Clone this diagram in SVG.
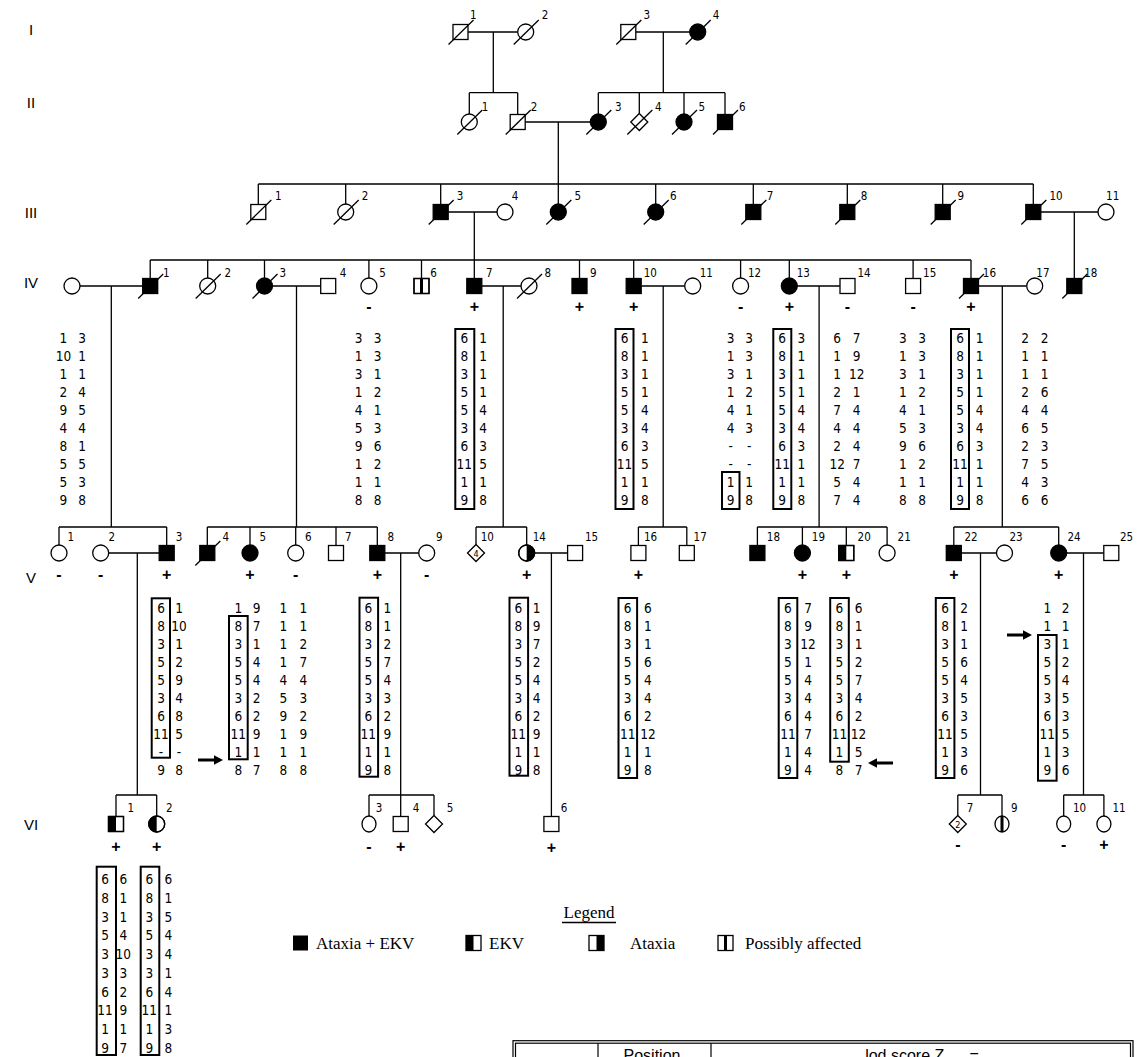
<svg xmlns="http://www.w3.org/2000/svg" xmlns:xlink="http://www.w3.org/1999/xlink" width="1138" height="1057" viewBox="0 0 1138 1057">
<style>
.o{fill:#fff;stroke:#000;stroke-width:1.3}
.f{fill:#000;stroke:#000;stroke-width:1.3}
.ol{fill:none;stroke:#000;stroke-width:1.3}
.sl{stroke:#000;stroke-width:1.3}
#conn path{fill:none;stroke:#000;stroke-width:1.3}
text{fill:#000}
.lbl{font-family:"Liberation Sans Narrow","DejaVu Sans Condensed","Liberation Sans",sans-serif;font-size:11.5px;text-anchor:middle}
.hap{font-family:"Liberation Sans Narrow","DejaVu Sans Condensed","Liberation Sans",sans-serif;font-size:13.5px;text-anchor:middle}
.pm{font-family:"Liberation Sans",sans-serif;font-size:16px;font-weight:bold;text-anchor:middle}
.gen{font-family:"Liberation Sans",sans-serif;font-size:15px;text-anchor:middle}
.bx{fill:none;stroke:#000;stroke-width:2}
.leg{font-family:"Liberation Serif",serif;font-size:17px}
.tb{font-family:"Liberation Sans",sans-serif;font-size:16px;text-anchor:middle}
</style>
<defs>
<rect id="sq" x="-7.5" y="-7.5" width="15" height="15"/>
<circle id="ci" r="8"/>
<ellipse id="ov" rx="7" ry="8"/>
<path id="di" d="M0,-8.5L8.5,0L0,8.5L-8.5,0Z"/>
<line id="sl" x1="-12" y1="12.5" x2="13" y2="-12"/>
<path id="arr" d="M0,-1.5H16V-4.8L25,0L16,4.8V1.5H0Z"/>
</defs>
<rect width="1138" height="1057" fill="#fff"/>

<g id="gen-labels">
<text class="gen" x="31" y="35">I</text>
<text class="gen" x="31" y="108">II</text>
<text class="gen" x="31" y="218">III</text>
<text class="gen" x="31" y="288">IV</text>
<text class="gen" x="31" y="583">V</text>
<text class="gen" x="31" y="830">VI</text>
</g>

<g id="conn">
<path d="M468,32H517.7M493.3,32V92.7M469.3,92.7H517.7M469.3,92.7V114M517.7,92.7V114.5"/>
<path d="M635.8,32H689.7M663.3,32V92.7M598.3,92.7H725M598.3,92.7V114M639.3,92.7V113.5M684,92.7V114M725,92.7V114.5"/>
<path d="M525.2,122H590.3M558.3,122V204"/>
<path d="M258.3,184H1033.3M258.3,184V204.5M345.7,184V204M440.7,184V204.5M655.7,184V204M753.3,184V204.5M847.3,184V204.5M942.7,184V204.5M1033.3,184V204.5"/>
<path d="M448.2,212H497M474.3,212V278.5M1040.8,212H1098M1074.3,212V278.5"/>
<path d="M150.2,260H971M150.2,260V278.5M207.7,260V278M264.5,260V278M368.9,260V278M421.5,260V278.5M579.5,260V278.5M633.7,260V278.5M740.6,260V278M789.3,260V278M913.1,260V278.5M971,260V278.5"/>
<path d="M80,286H142.7M111.3,286V527M272.5,286H320.7M296.5,286V527M481.8,286H521M503.2,286V527M641.2,286H684.7M663.2,286V527M797.3,286H840M819.1,286V527M978.5,286H1026.7M1002.3,286V527"/>
<path d="M59,527H166.7M59,527V545M166.7,527V545.5"/>
<path d="M207.3,527H377.3M207.3,527V545.5M250,527V545M295.7,527V545M336,527V545.5M377.3,527V545.5"/>
<path d="M476,527H526.7M476,527V544.5M526.7,527V545"/>
<path d="M638.4,527H686.8M638.4,527V545.5M686.8,527V545.5"/>
<path d="M757.4,527H887.1M757.4,527V545.5M802.4,527V545M846.3,527V545.5M887.1,527V545"/>
<path d="M953.8,527H1058.7M953.8,527V545.5M1058.7,527V545"/>
<path d="M108.7,553H159.2M137.3,553V795M384.8,553H418.7M400.7,553V795M534.7,553H567.6M551.4,553V816.5M961.3,553H996.5M980.5,553V795M1066.7,553H1103.8M1083.5,553V795"/>
<path d="M116,795H156.7M116,795V816.5M156.7,795V816"/>
<path d="M369,795H434M369,795V816M400.7,795V816.5M434,795V815.5"/>
<path d="M957.8,795H1002M957.8,795V815.5M1002,795V816"/>
<path d="M1063.7,795H1103.9M1063.7,795V816M1103.9,795V816"/>
</g>

<!-- Generation I -->
<g id="I-1"><use href="#sq" x="460.5" y="32" class="o"/><use href="#sl" x="460.5" y="32" class="sl"/><text class="lbl" x="473.3" y="19">1</text></g>
<g id="I-2"><use href="#ci" x="525.7" y="32" class="o"/><use href="#sl" x="525.7" y="32" class="sl"/><text class="lbl" x="545" y="19">2</text></g>
<g id="I-3"><use href="#sq" x="628.3" y="32" class="o"/><use href="#sl" x="628.3" y="32" class="sl"/><text class="lbl" x="646.7" y="19">3</text></g>
<g id="I-4"><use href="#ci" x="697.7" y="32" class="f"/><use href="#sl" x="697.7" y="32" class="sl"/><text class="lbl" x="716" y="19">4</text></g>

<!-- Generation II -->
<g id="II-1"><use href="#ci" x="469.3" y="122" class="o"/><use href="#sl" x="469.3" y="122" class="sl"/><text class="lbl" x="485" y="111">1</text></g>
<g id="II-2"><use href="#sq" x="517.7" y="122" class="o"/><use href="#sl" x="517.7" y="122" class="sl"/><text class="lbl" x="534" y="111">2</text></g>
<g id="II-3"><use href="#ci" x="598.3" y="122" class="f"/><use href="#sl" x="598.3" y="122" class="sl"/><text class="lbl" x="618.3" y="111">3</text></g>
<g id="II-4"><use href="#di" x="639.3" y="122" class="o"/><use href="#sl" x="639.3" y="122" class="sl"/><text class="lbl" x="658.3" y="111">4</text></g>
<g id="II-5"><use href="#ci" x="684" y="122" class="f"/><use href="#sl" x="684" y="122" class="sl"/><text class="lbl" x="701.7" y="111">5</text></g>
<g id="II-6"><use href="#sq" x="725" y="122" class="f"/><use href="#sl" x="725" y="122" class="sl"/><text class="lbl" x="742.3" y="111">6</text></g>

<!-- Generation III -->
<g id="III-1"><use href="#sq" x="258.3" y="212" class="o"/><use href="#sl" x="258.3" y="212" class="sl"/><text class="lbl" x="278.3" y="200">1</text></g>
<g id="III-2"><use href="#ci" x="345.7" y="212" class="o"/><use href="#sl" x="345.7" y="212" class="sl"/><text class="lbl" x="365" y="200">2</text></g>
<g id="III-3"><use href="#sq" x="440.7" y="212" class="f"/><use href="#sl" x="440.7" y="212" class="sl"/><text class="lbl" x="460" y="200">3</text></g>
<g id="III-4"><use href="#ci" x="505" y="212" class="o"/><text class="lbl" x="515" y="200">4</text></g>
<g id="III-5"><use href="#ci" x="558.3" y="212" class="f"/><use href="#sl" x="558.3" y="212" class="sl"/><text class="lbl" x="577.7" y="200">5</text></g>
<g id="III-6"><use href="#ci" x="655.7" y="212" class="f"/><use href="#sl" x="655.7" y="212" class="sl"/><text class="lbl" x="673.3" y="200">6</text></g>
<g id="III-7"><use href="#sq" x="753.3" y="212" class="f"/><use href="#sl" x="753.3" y="212" class="sl"/><text class="lbl" x="770" y="200">7</text></g>
<g id="III-8"><use href="#sq" x="847.3" y="212" class="f"/><use href="#sl" x="847.3" y="212" class="sl"/><text class="lbl" x="864" y="200">8</text></g>
<g id="III-9"><use href="#sq" x="942.7" y="212" class="f"/><use href="#sl" x="942.7" y="212" class="sl"/><text class="lbl" x="960.7" y="200">9</text></g>
<g id="III-10"><use href="#sq" x="1033.3" y="212" class="f"/><use href="#sl" x="1033.3" y="212" class="sl"/><text class="lbl" x="1056" y="200">10</text></g>
<g id="III-11"><use href="#ci" x="1106" y="212" class="o"/><text class="lbl" x="1112.7" y="200">11</text></g>

<!-- Generation IV -->
<g id="IV-spouse"><use href="#ci" x="72" y="286" class="o"/>
<text class="hap" y="343.3"><tspan x="63.4">1</tspan><tspan x="63.4" dy="17.95">10</tspan><tspan x="63.4" dy="17.95">1</tspan><tspan x="63.4" dy="17.95">2</tspan><tspan x="63.4" dy="17.95">9</tspan><tspan x="63.4" dy="17.95">4</tspan><tspan x="63.4" dy="17.95">8</tspan><tspan x="63.4" dy="17.95">5</tspan><tspan x="63.4" dy="17.95">5</tspan><tspan x="63.4" dy="17.95">9</tspan></text>
<text class="hap" y="343.3"><tspan x="82">3</tspan><tspan x="82" dy="17.95">1</tspan><tspan x="82" dy="17.95">1</tspan><tspan x="82" dy="17.95">4</tspan><tspan x="82" dy="17.95">5</tspan><tspan x="82" dy="17.95">4</tspan><tspan x="82" dy="17.95">1</tspan><tspan x="82" dy="17.95">5</tspan><tspan x="82" dy="17.95">3</tspan><tspan x="82" dy="17.95">8</tspan></text>
</g>
<g id="IV-1"><use href="#sq" x="150.2" y="286" class="f"/><use href="#sl" x="150.2" y="286" class="sl"/><text class="lbl" x="166.4" y="277">1</text></g>
<g id="IV-2"><use href="#ci" x="207.7" y="286" class="o"/><use href="#sl" x="207.7" y="286" class="sl"/><text class="lbl" x="227.7" y="277">2</text></g>
<g id="IV-3"><use href="#ci" x="264.5" y="286" class="f"/><use href="#sl" x="264.5" y="286" class="sl"/><text class="lbl" x="282.8" y="277">3</text></g>
<g id="IV-4"><use href="#sq" x="328.2" y="286" class="o"/><text class="lbl" x="343" y="277">4</text></g>
<g id="IV-5"><use href="#ci" x="368.9" y="286" class="o"/><text class="lbl" x="382.6" y="277">5</text><text class="pm" x="368.9" y="312">-</text>
<text class="hap" y="343.3"><tspan x="358.5">3</tspan><tspan x="358.5" dy="17.95">1</tspan><tspan x="358.5" dy="17.95">3</tspan><tspan x="358.5" dy="17.95">1</tspan><tspan x="358.5" dy="17.95">4</tspan><tspan x="358.5" dy="17.95">5</tspan><tspan x="358.5" dy="17.95">9</tspan><tspan x="358.5" dy="17.95">1</tspan><tspan x="358.5" dy="17.95">1</tspan><tspan x="358.5" dy="17.95">8</tspan></text>
<text class="hap" y="343.3"><tspan x="377.5">3</tspan><tspan x="377.5" dy="17.95">3</tspan><tspan x="377.5" dy="17.95">1</tspan><tspan x="377.5" dy="17.95">2</tspan><tspan x="377.5" dy="17.95">1</tspan><tspan x="377.5" dy="17.95">3</tspan><tspan x="377.5" dy="17.95">6</tspan><tspan x="377.5" dy="17.95">2</tspan><tspan x="377.5" dy="17.95">1</tspan><tspan x="377.5" dy="17.95">8</tspan></text>
</g>
<g id="IV-6"><use href="#sq" x="421.5" y="286" class="o"/><rect x="420" y="278.5" width="3" height="15"/><use href="#sq" x="421.5" y="286" class="ol"/><text class="lbl" x="433.6" y="277">6</text></g>
<g id="IV-7"><use href="#sq" x="474.3" y="286" class="f"/><text class="lbl" x="489.4" y="277">7</text><text class="pm" x="474.3" y="312">+</text>
<rect class="bx" x="455.3" y="329" width="19" height="180"/>
<text class="hap" y="343.3"><tspan x="464.3">6</tspan><tspan x="464.3" dy="17.95">8</tspan><tspan x="464.3" dy="17.95">3</tspan><tspan x="464.3" dy="17.95">5</tspan><tspan x="464.3" dy="17.95">5</tspan><tspan x="464.3" dy="17.95">3</tspan><tspan x="464.3" dy="17.95">6</tspan><tspan x="464.3" dy="17.95">11</tspan><tspan x="464.3" dy="17.95">1</tspan><tspan x="464.3" dy="17.95">9</tspan></text>
<text class="hap" y="343.3"><tspan x="483.2">1</tspan><tspan x="483.2" dy="17.95">1</tspan><tspan x="483.2" dy="17.95">1</tspan><tspan x="483.2" dy="17.95">1</tspan><tspan x="483.2" dy="17.95">4</tspan><tspan x="483.2" dy="17.95">4</tspan><tspan x="483.2" dy="17.95">3</tspan><tspan x="483.2" dy="17.95">5</tspan><tspan x="483.2" dy="17.95">1</tspan><tspan x="483.2" dy="17.95">8</tspan></text>
</g>
<g id="IV-8"><use href="#ci" x="529" y="286" class="o"/><use href="#sl" x="529" y="286" class="sl"/><text class="lbl" x="547.9" y="277">8</text></g>
<g id="IV-9"><use href="#sq" x="579.5" y="286" class="f"/><text class="lbl" x="593.2" y="277">9</text><text class="pm" x="579.5" y="312">+</text></g>
<g id="IV-10"><use href="#sq" x="633.7" y="286" class="f"/><text class="lbl" x="650.3" y="277">10</text><text class="pm" x="633.7" y="312">+</text>
<rect class="bx" x="615.5" y="329" width="18" height="180"/>
<text class="hap" y="343.3"><tspan x="624.5">6</tspan><tspan x="624.5" dy="17.95">8</tspan><tspan x="624.5" dy="17.95">3</tspan><tspan x="624.5" dy="17.95">5</tspan><tspan x="624.5" dy="17.95">5</tspan><tspan x="624.5" dy="17.95">3</tspan><tspan x="624.5" dy="17.95">6</tspan><tspan x="624.5" dy="17.95">11</tspan><tspan x="624.5" dy="17.95">1</tspan><tspan x="624.5" dy="17.95">9</tspan></text>
<text class="hap" y="343.3"><tspan x="644.8">1</tspan><tspan x="644.8" dy="17.95">1</tspan><tspan x="644.8" dy="17.95">1</tspan><tspan x="644.8" dy="17.95">1</tspan><tspan x="644.8" dy="17.95">4</tspan><tspan x="644.8" dy="17.95">4</tspan><tspan x="644.8" dy="17.95">3</tspan><tspan x="644.8" dy="17.95">5</tspan><tspan x="644.8" dy="17.95">1</tspan><tspan x="644.8" dy="17.95">8</tspan></text>
</g>
<g id="IV-11"><use href="#ci" x="692.7" y="286" class="o"/><text class="lbl" x="706.3" y="277">11</text></g>
<g id="IV-12"><use href="#ci" x="740.6" y="286" class="o"/><text class="lbl" x="754.6" y="277">12</text><text class="pm" x="740.6" y="312">-</text>
<rect class="bx" x="722" y="472" width="17.5" height="37"/>
<text class="hap" y="343.3"><tspan x="730.7">3</tspan><tspan x="730.7" dy="17.95">1</tspan><tspan x="730.7" dy="17.95">3</tspan><tspan x="730.7" dy="17.95">1</tspan><tspan x="730.7" dy="17.95">4</tspan><tspan x="730.7" dy="17.95">4</tspan><tspan x="730.7" dy="17.95">-</tspan><tspan x="730.7" dy="17.95">-</tspan><tspan x="730.7" dy="17.95">1</tspan><tspan x="730.7" dy="17.95">9</tspan></text>
<text class="hap" y="343.3"><tspan x="749.1">3</tspan><tspan x="749.1" dy="17.95">3</tspan><tspan x="749.1" dy="17.95">1</tspan><tspan x="749.1" dy="17.95">2</tspan><tspan x="749.1" dy="17.95">1</tspan><tspan x="749.1" dy="17.95">3</tspan><tspan x="749.1" dy="17.95">-</tspan><tspan x="749.1" dy="17.95">-</tspan><tspan x="749.1" dy="17.95">1</tspan><tspan x="749.1" dy="17.95">8</tspan></text>
</g>
<g id="IV-13"><use href="#ci" x="789.3" y="286" class="f"/><text class="lbl" x="803.3" y="277">13</text><text class="pm" x="789.3" y="312">+</text>
<rect class="bx" x="773.3" y="329" width="18" height="180"/>
<text class="hap" y="343.3"><tspan x="782.2">6</tspan><tspan x="782.2" dy="17.95">8</tspan><tspan x="782.2" dy="17.95">3</tspan><tspan x="782.2" dy="17.95">5</tspan><tspan x="782.2" dy="17.95">5</tspan><tspan x="782.2" dy="17.95">3</tspan><tspan x="782.2" dy="17.95">6</tspan><tspan x="782.2" dy="17.95">11</tspan><tspan x="782.2" dy="17.95">1</tspan><tspan x="782.2" dy="17.95">9</tspan></text>
<text class="hap" y="343.3"><tspan x="801.4">3</tspan><tspan x="801.4" dy="17.95">1</tspan><tspan x="801.4" dy="17.95">1</tspan><tspan x="801.4" dy="17.95">1</tspan><tspan x="801.4" dy="17.95">4</tspan><tspan x="801.4" dy="17.95">4</tspan><tspan x="801.4" dy="17.95">3</tspan><tspan x="801.4" dy="17.95">1</tspan><tspan x="801.4" dy="17.95">1</tspan><tspan x="801.4" dy="17.95">8</tspan></text>
</g>
<g id="IV-14"><use href="#sq" x="847.5" y="286" class="o"/><text class="lbl" x="864.1" y="277">14</text><text class="pm" x="847.5" y="312">-</text>
<text class="hap" y="343.3"><tspan x="837.2">6</tspan><tspan x="837.2" dy="17.95">1</tspan><tspan x="837.2" dy="17.95">1</tspan><tspan x="837.2" dy="17.95">2</tspan><tspan x="837.2" dy="17.95">7</tspan><tspan x="837.2" dy="17.95">4</tspan><tspan x="837.2" dy="17.95">2</tspan><tspan x="837.2" dy="17.95">12</tspan><tspan x="837.2" dy="17.95">5</tspan><tspan x="837.2" dy="17.95">7</tspan></text>
<text class="hap" y="343.3"><tspan x="856.7">7</tspan><tspan x="856.7" dy="17.95">9</tspan><tspan x="856.7" dy="17.95">12</tspan><tspan x="856.7" dy="17.95">1</tspan><tspan x="856.7" dy="17.95">4</tspan><tspan x="856.7" dy="17.95">4</tspan><tspan x="856.7" dy="17.95">4</tspan><tspan x="856.7" dy="17.95">7</tspan><tspan x="856.7" dy="17.95">4</tspan><tspan x="856.7" dy="17.95">4</tspan></text>
</g>
<g id="IV-15"><use href="#sq" x="913.1" y="286" class="o"/><text class="lbl" x="929.7" y="277">15</text><text class="pm" x="913.1" y="312">-</text>
<text class="hap" y="343.3"><tspan x="902.8">3</tspan><tspan x="902.8" dy="17.95">1</tspan><tspan x="902.8" dy="17.95">3</tspan><tspan x="902.8" dy="17.95">1</tspan><tspan x="902.8" dy="17.95">4</tspan><tspan x="902.8" dy="17.95">5</tspan><tspan x="902.8" dy="17.95">9</tspan><tspan x="902.8" dy="17.95">1</tspan><tspan x="902.8" dy="17.95">1</tspan><tspan x="902.8" dy="17.95">8</tspan></text>
<text class="hap" y="343.3"><tspan x="922">3</tspan><tspan x="922" dy="17.95">3</tspan><tspan x="922" dy="17.95">1</tspan><tspan x="922" dy="17.95">2</tspan><tspan x="922" dy="17.95">1</tspan><tspan x="922" dy="17.95">3</tspan><tspan x="922" dy="17.95">6</tspan><tspan x="922" dy="17.95">2</tspan><tspan x="922" dy="17.95">1</tspan><tspan x="922" dy="17.95">8</tspan></text>
</g>
<g id="IV-16"><use href="#sq" x="971" y="286" class="f"/><use href="#sl" x="971" y="286" class="sl"/><text class="lbl" x="989.4" y="277">16</text><text class="pm" x="971" y="312">+</text>
<rect class="bx" x="951" y="329" width="18" height="180"/>
<text class="hap" y="343.3"><tspan x="960">6</tspan><tspan x="960" dy="17.95">8</tspan><tspan x="960" dy="17.95">3</tspan><tspan x="960" dy="17.95">5</tspan><tspan x="960" dy="17.95">5</tspan><tspan x="960" dy="17.95">3</tspan><tspan x="960" dy="17.95">6</tspan><tspan x="960" dy="17.95">11</tspan><tspan x="960" dy="17.95">1</tspan><tspan x="960" dy="17.95">9</tspan></text>
<text class="hap" y="343.3"><tspan x="979.5">1</tspan><tspan x="979.5" dy="17.95">1</tspan><tspan x="979.5" dy="17.95">1</tspan><tspan x="979.5" dy="17.95">1</tspan><tspan x="979.5" dy="17.95">4</tspan><tspan x="979.5" dy="17.95">4</tspan><tspan x="979.5" dy="17.95">3</tspan><tspan x="979.5" dy="17.95">1</tspan><tspan x="979.5" dy="17.95">1</tspan><tspan x="979.5" dy="17.95">8</tspan></text>
</g>
<g id="IV-17"><use href="#ci" x="1034.7" y="286" class="o"/><text class="lbl" x="1042.9" y="277">17</text>
<text class="hap" y="343.3"><tspan x="1025.2">2</tspan><tspan x="1025.2" dy="17.95">1</tspan><tspan x="1025.2" dy="17.95">1</tspan><tspan x="1025.2" dy="17.95">2</tspan><tspan x="1025.2" dy="17.95">4</tspan><tspan x="1025.2" dy="17.95">6</tspan><tspan x="1025.2" dy="17.95">2</tspan><tspan x="1025.2" dy="17.95">7</tspan><tspan x="1025.2" dy="17.95">4</tspan><tspan x="1025.2" dy="17.95">6</tspan></text>
<text class="hap" y="343.3"><tspan x="1044.7">2</tspan><tspan x="1044.7" dy="17.95">1</tspan><tspan x="1044.7" dy="17.95">1</tspan><tspan x="1044.7" dy="17.95">6</tspan><tspan x="1044.7" dy="17.95">4</tspan><tspan x="1044.7" dy="17.95">5</tspan><tspan x="1044.7" dy="17.95">3</tspan><tspan x="1044.7" dy="17.95">5</tspan><tspan x="1044.7" dy="17.95">3</tspan><tspan x="1044.7" dy="17.95">6</tspan></text>
</g>
<g id="IV-18"><use href="#sq" x="1074.3" y="286" class="f"/><use href="#sl" x="1074.3" y="286" class="sl"/><text class="lbl" x="1090.8" y="277">18</text></g>

<!-- Generation V -->
<g id="V-1"><use href="#ci" x="59" y="553" class="o"/><text class="lbl" x="70.7" y="541">1</text><text class="pm" x="59" y="580">-</text></g>
<g id="V-2"><use href="#ci" x="100.7" y="553" class="o"/><text class="lbl" x="111.7" y="541">2</text><text class="pm" x="100.7" y="580">-</text></g>
<g id="V-3"><use href="#sq" x="166.7" y="553" class="f"/><text class="lbl" x="179" y="541">3</text><text class="pm" x="166.7" y="580">+</text>
<rect class="bx" x="151.7" y="598.3" width="18.3" height="159.4"/>
<text class="hap" y="613.3"><tspan x="161">6</tspan><tspan x="161" dy="17.95">8</tspan><tspan x="161" dy="17.95">3</tspan><tspan x="161" dy="17.95">5</tspan><tspan x="161" dy="17.95">5</tspan><tspan x="161" dy="17.95">3</tspan><tspan x="161" dy="17.95">6</tspan><tspan x="161" dy="17.95">11</tspan><tspan x="161" dy="17.95">-</tspan><tspan x="161" dy="17.95">9</tspan></text>
<text class="hap" y="613.3"><tspan x="179">1</tspan><tspan x="179" dy="17.95">10</tspan><tspan x="179" dy="17.95">1</tspan><tspan x="179" dy="17.95">2</tspan><tspan x="179" dy="17.95">9</tspan><tspan x="179" dy="17.95">4</tspan><tspan x="179" dy="17.95">8</tspan><tspan x="179" dy="17.95">5</tspan><tspan x="179" dy="17.95">-</tspan><tspan x="179" dy="17.95">8</tspan></text>
</g>
<g id="V-4"><use href="#sq" x="207.3" y="553" class="f"/><use href="#sl" x="207.3" y="553" class="sl"/><text class="lbl" x="225.7" y="541">4</text></g>
<g id="V-5"><use href="#ci" x="250" y="553" class="f"/><text class="lbl" x="262.7" y="541">5</text><text class="pm" x="250" y="580">+</text>
<rect class="bx" x="229" y="616" width="18.7" height="143.3"/>
<use href="#arr" x="198" y="760"/>
<text class="hap" y="613.3"><tspan x="238.3">1</tspan><tspan x="238.3" dy="17.95">8</tspan><tspan x="238.3" dy="17.95">3</tspan><tspan x="238.3" dy="17.95">5</tspan><tspan x="238.3" dy="17.95">5</tspan><tspan x="238.3" dy="17.95">3</tspan><tspan x="238.3" dy="17.95">6</tspan><tspan x="238.3" dy="17.95">11</tspan><tspan x="238.3" dy="17.95">1</tspan><tspan x="238.3" dy="17.95">8</tspan></text>
<text class="hap" y="613.3"><tspan x="256.7">9</tspan><tspan x="256.7" dy="17.95">7</tspan><tspan x="256.7" dy="17.95">1</tspan><tspan x="256.7" dy="17.95">4</tspan><tspan x="256.7" dy="17.95">4</tspan><tspan x="256.7" dy="17.95">2</tspan><tspan x="256.7" dy="17.95">2</tspan><tspan x="256.7" dy="17.95">9</tspan><tspan x="256.7" dy="17.95">1</tspan><tspan x="256.7" dy="17.95">7</tspan></text>
</g>
<g id="V-6"><use href="#ci" x="295.7" y="553" class="o"/><text class="lbl" x="308.3" y="541">6</text><text class="pm" x="295.7" y="580">-</text>
<text class="hap" y="613.3"><tspan x="283.3">1</tspan><tspan x="283.3" dy="17.95">1</tspan><tspan x="283.3" dy="17.95">1</tspan><tspan x="283.3" dy="17.95">1</tspan><tspan x="283.3" dy="17.95">4</tspan><tspan x="283.3" dy="17.95">5</tspan><tspan x="283.3" dy="17.95">9</tspan><tspan x="283.3" dy="17.95">1</tspan><tspan x="283.3" dy="17.95">1</tspan><tspan x="283.3" dy="17.95">8</tspan></text>
<text class="hap" y="613.3"><tspan x="303.3">1</tspan><tspan x="303.3" dy="17.95">1</tspan><tspan x="303.3" dy="17.95">2</tspan><tspan x="303.3" dy="17.95">7</tspan><tspan x="303.3" dy="17.95">4</tspan><tspan x="303.3" dy="17.95">3</tspan><tspan x="303.3" dy="17.95">2</tspan><tspan x="303.3" dy="17.95">9</tspan><tspan x="303.3" dy="17.95">1</tspan><tspan x="303.3" dy="17.95">8</tspan></text>
</g>
<g id="V-7"><use href="#sq" x="336" y="553" class="o"/><text class="lbl" x="348.3" y="541">7</text></g>
<g id="V-8"><use href="#sq" x="377.3" y="553" class="f"/><text class="lbl" x="390.7" y="541">8</text><text class="pm" x="377.3" y="580">+</text>
<rect class="bx" x="359.5" y="597.7" width="18.6" height="179"/>
<text class="hap" y="613.3"><tspan x="368.3">6</tspan><tspan x="368.3" dy="17.95">8</tspan><tspan x="368.3" dy="17.95">3</tspan><tspan x="368.3" dy="17.95">5</tspan><tspan x="368.3" dy="17.95">5</tspan><tspan x="368.3" dy="17.95">3</tspan><tspan x="368.3" dy="17.95">6</tspan><tspan x="368.3" dy="17.95">11</tspan><tspan x="368.3" dy="17.95">1</tspan><tspan x="368.3" dy="17.95">9</tspan></text>
<text class="hap" y="613.3"><tspan x="387.3">1</tspan><tspan x="387.3" dy="17.95">1</tspan><tspan x="387.3" dy="17.95">2</tspan><tspan x="387.3" dy="17.95">7</tspan><tspan x="387.3" dy="17.95">4</tspan><tspan x="387.3" dy="17.95">3</tspan><tspan x="387.3" dy="17.95">2</tspan><tspan x="387.3" dy="17.95">9</tspan><tspan x="387.3" dy="17.95">1</tspan><tspan x="387.3" dy="17.95">8</tspan></text>
</g>
<g id="V-9"><use href="#ci" x="426.7" y="553" class="o"/><text class="lbl" x="439.3" y="541">9</text><text class="pm" x="426.7" y="580">-</text></g>
<g id="V-10"><use href="#di" x="476" y="553" class="o"/><text class="lbl" x="476" y="556.5" style="font-size:9px">4</text><text class="lbl" x="487.3" y="541">10</text></g>
<g id="V-14"><use href="#ci" x="526.7" y="553" class="o"/><path d="M526.7,545A8,8 0 0 1 526.7,561Z"/><use href="#ci" x="526.7" y="553" class="ol"/><text class="lbl" x="539.3" y="541">14</text><text class="pm" x="526.7" y="580">+</text>
<rect class="bx" x="509.5" y="597.7" width="18.6" height="178"/>
<text class="hap" y="613.3"><tspan x="518.3">6</tspan><tspan x="518.3" dy="17.95">8</tspan><tspan x="518.3" dy="17.95">3</tspan><tspan x="518.3" dy="17.95">5</tspan><tspan x="518.3" dy="17.95">5</tspan><tspan x="518.3" dy="17.95">3</tspan><tspan x="518.3" dy="17.95">6</tspan><tspan x="518.3" dy="17.95">11</tspan><tspan x="518.3" dy="17.95">1</tspan><tspan x="518.3" dy="17.95">9</tspan></text>
<text class="hap" y="613.3"><tspan x="536.7">1</tspan><tspan x="536.7" dy="17.95">9</tspan><tspan x="536.7" dy="17.95">7</tspan><tspan x="536.7" dy="17.95">2</tspan><tspan x="536.7" dy="17.95">4</tspan><tspan x="536.7" dy="17.95">4</tspan><tspan x="536.7" dy="17.95">2</tspan><tspan x="536.7" dy="17.95">9</tspan><tspan x="536.7" dy="17.95">1</tspan><tspan x="536.7" dy="17.95">8</tspan></text>
</g>
<g id="V-15"><use href="#sq" x="575.1" y="553" class="o"/><text class="lbl" x="591.5" y="541">15</text></g>
<g id="V-16"><use href="#sq" x="638.4" y="553" class="o"/><text class="lbl" x="650.6" y="541">16</text><text class="pm" x="638.4" y="580">+</text>
<rect class="bx" x="618.5" y="598" width="18.6" height="180"/>
<text class="hap" y="613.3"><tspan x="627.7">6</tspan><tspan x="627.7" dy="17.95">8</tspan><tspan x="627.7" dy="17.95">3</tspan><tspan x="627.7" dy="17.95">5</tspan><tspan x="627.7" dy="17.95">5</tspan><tspan x="627.7" dy="17.95">3</tspan><tspan x="627.7" dy="17.95">6</tspan><tspan x="627.7" dy="17.95">11</tspan><tspan x="627.7" dy="17.95">1</tspan><tspan x="627.7" dy="17.95">9</tspan></text>
<text class="hap" y="613.3"><tspan x="647.9">6</tspan><tspan x="647.9" dy="17.95">1</tspan><tspan x="647.9" dy="17.95">1</tspan><tspan x="647.9" dy="17.95">6</tspan><tspan x="647.9" dy="17.95">4</tspan><tspan x="647.9" dy="17.95">4</tspan><tspan x="647.9" dy="17.95">2</tspan><tspan x="647.9" dy="17.95">12</tspan><tspan x="647.9" dy="17.95">1</tspan><tspan x="647.9" dy="17.95">8</tspan></text>
</g>
<g id="V-17"><use href="#sq" x="686.8" y="553" class="o"/><text class="lbl" x="700.2" y="541">17</text></g>
<g id="V-18"><use href="#sq" x="757.4" y="553" class="f"/><text class="lbl" x="773.4" y="541">18</text></g>
<g id="V-19"><use href="#ci" x="802.4" y="553" class="f"/><text class="lbl" x="818.4" y="541">19</text><text class="pm" x="802.4" y="580">+</text>
<rect class="bx" x="778.7" y="598" width="18.6" height="180"/>
<text class="hap" y="613.3"><tspan x="787.9">6</tspan><tspan x="787.9" dy="17.95">8</tspan><tspan x="787.9" dy="17.95">3</tspan><tspan x="787.9" dy="17.95">5</tspan><tspan x="787.9" dy="17.95">5</tspan><tspan x="787.9" dy="17.95">3</tspan><tspan x="787.9" dy="17.95">6</tspan><tspan x="787.9" dy="17.95">11</tspan><tspan x="787.9" dy="17.95">1</tspan><tspan x="787.9" dy="17.95">9</tspan></text>
<text class="hap" y="613.3"><tspan x="808.1">7</tspan><tspan x="808.1" dy="17.95">9</tspan><tspan x="808.1" dy="17.95">12</tspan><tspan x="808.1" dy="17.95">1</tspan><tspan x="808.1" dy="17.95">4</tspan><tspan x="808.1" dy="17.95">4</tspan><tspan x="808.1" dy="17.95">4</tspan><tspan x="808.1" dy="17.95">7</tspan><tspan x="808.1" dy="17.95">4</tspan><tspan x="808.1" dy="17.95">4</tspan></text>
</g>
<g id="V-20"><use href="#sq" x="846.3" y="553" class="o"/><rect x="838.8" y="545.5" width="7.5" height="15"/><use href="#sq" x="846.3" y="553" class="ol"/><text class="lbl" x="864.2" y="541">20</text><text class="pm" x="846.3" y="580">+</text>
<rect class="bx" x="830.2" y="598" width="18.6" height="163.7"/>
<use href="#arr" transform="translate(893,763) scale(-1,1)"/>
<text class="hap" y="613.3"><tspan x="839.4">6</tspan><tspan x="839.4" dy="17.95">8</tspan><tspan x="839.4" dy="17.95">3</tspan><tspan x="839.4" dy="17.95">5</tspan><tspan x="839.4" dy="17.95">5</tspan><tspan x="839.4" dy="17.95">3</tspan><tspan x="839.4" dy="17.95">6</tspan><tspan x="839.4" dy="17.95">11</tspan><tspan x="839.4" dy="17.95">1</tspan><tspan x="839.4" dy="17.95">8</tspan></text>
<text class="hap" y="613.3"><tspan x="858.5">6</tspan><tspan x="858.5" dy="17.95">1</tspan><tspan x="858.5" dy="17.95">1</tspan><tspan x="858.5" dy="17.95">2</tspan><tspan x="858.5" dy="17.95">7</tspan><tspan x="858.5" dy="17.95">4</tspan><tspan x="858.5" dy="17.95">2</tspan><tspan x="858.5" dy="17.95">12</tspan><tspan x="858.5" dy="17.95">5</tspan><tspan x="858.5" dy="17.95">7</tspan></text>
</g>
<g id="V-21"><use href="#ci" x="887.1" y="553" class="o"/><text class="lbl" x="904.2" y="541">21</text></g>
<g id="V-22"><use href="#sq" x="953.8" y="553" class="f"/><text class="lbl" x="971" y="541">22</text><text class="pm" x="953.8" y="580">+</text>
<rect class="bx" x="935.8" y="598" width="18.6" height="180"/>
<text class="hap" y="613.3"><tspan x="945">6</tspan><tspan x="945" dy="17.95">8</tspan><tspan x="945" dy="17.95">3</tspan><tspan x="945" dy="17.95">5</tspan><tspan x="945" dy="17.95">5</tspan><tspan x="945" dy="17.95">3</tspan><tspan x="945" dy="17.95">6</tspan><tspan x="945" dy="17.95">11</tspan><tspan x="945" dy="17.95">1</tspan><tspan x="945" dy="17.95">9</tspan></text>
<text class="hap" y="613.3"><tspan x="964.1">2</tspan><tspan x="964.1" dy="17.95">1</tspan><tspan x="964.1" dy="17.95">1</tspan><tspan x="964.1" dy="17.95">6</tspan><tspan x="964.1" dy="17.95">4</tspan><tspan x="964.1" dy="17.95">5</tspan><tspan x="964.1" dy="17.95">3</tspan><tspan x="964.1" dy="17.95">5</tspan><tspan x="964.1" dy="17.95">3</tspan><tspan x="964.1" dy="17.95">6</tspan></text>
</g>
<g id="V-23"><use href="#ci" x="1004.5" y="553" class="o"/><text class="lbl" x="1016" y="541">23</text></g>
<g id="V-24"><use href="#ci" x="1058.7" y="553" class="f"/><text class="lbl" x="1074" y="541">24</text><text class="pm" x="1058.7" y="580">+</text>
<rect class="bx" x="1038" y="635" width="18.6" height="145.7"/>
<use href="#arr" x="1007" y="635"/>
<text class="hap" y="613.3"><tspan x="1047.3">1</tspan><tspan x="1047.3" dy="17.95">1</tspan><tspan x="1047.3" dy="17.95">3</tspan><tspan x="1047.3" dy="17.95">5</tspan><tspan x="1047.3" dy="17.95">5</tspan><tspan x="1047.3" dy="17.95">3</tspan><tspan x="1047.3" dy="17.95">6</tspan><tspan x="1047.3" dy="17.95">11</tspan><tspan x="1047.3" dy="17.95">1</tspan><tspan x="1047.3" dy="17.95">9</tspan></text>
<text class="hap" y="613.3"><tspan x="1065.6">2</tspan><tspan x="1065.6" dy="17.95">1</tspan><tspan x="1065.6" dy="17.95">1</tspan><tspan x="1065.6" dy="17.95">2</tspan><tspan x="1065.6" dy="17.95">4</tspan><tspan x="1065.6" dy="17.95">5</tspan><tspan x="1065.6" dy="17.95">3</tspan><tspan x="1065.6" dy="17.95">5</tspan><tspan x="1065.6" dy="17.95">3</tspan><tspan x="1065.6" dy="17.95">6</tspan></text>
</g>
<g id="V-25"><use href="#sq" x="1111.3" y="553" class="o"/><text class="lbl" x="1126.6" y="541">25</text></g>

<!-- Generation VI -->
<g id="VI-1"><use href="#sq" x="116" y="824" class="o"/><rect x="108.5" y="816.5" width="7.5" height="15"/><use href="#sq" x="116" y="824" class="ol"/><text class="lbl" x="130.7" y="812">1</text><text class="pm" x="116" y="852">+</text>
<rect class="bx" x="96.7" y="866.7" width="19.3" height="188.3"/>
<text class="hap" y="884.3"><tspan x="105">6</tspan><tspan x="105" dy="18.7">8</tspan><tspan x="105" dy="18.7">3</tspan><tspan x="105" dy="18.7">5</tspan><tspan x="105" dy="18.7">3</tspan><tspan x="105" dy="18.7">3</tspan><tspan x="105" dy="18.7">6</tspan><tspan x="105" dy="18.7">11</tspan><tspan x="105" dy="18.7">1</tspan><tspan x="105" dy="18.7">9</tspan></text>
<text class="hap" y="884.3"><tspan x="123.3">6</tspan><tspan x="123.3" dy="18.7">1</tspan><tspan x="123.3" dy="18.7">1</tspan><tspan x="123.3" dy="18.7">4</tspan><tspan x="123.3" dy="18.7">10</tspan><tspan x="123.3" dy="18.7">3</tspan><tspan x="123.3" dy="18.7">2</tspan><tspan x="123.3" dy="18.7">9</tspan><tspan x="123.3" dy="18.7">1</tspan><tspan x="123.3" dy="18.7">7</tspan></text>
</g>
<g id="VI-2"><use href="#ci" x="156.7" y="824" class="o"/><path d="M156.7,816A8,8 0 0 0 156.7,832Z"/><use href="#ci" x="156.7" y="824" class="ol"/><text class="lbl" x="169.3" y="812">2</text><text class="pm" x="156.7" y="852">+</text>
<rect class="bx" x="140.7" y="866.7" width="18.6" height="188.3"/>
<text class="hap" y="884.3"><tspan x="149.3">6</tspan><tspan x="149.3" dy="18.7">8</tspan><tspan x="149.3" dy="18.7">3</tspan><tspan x="149.3" dy="18.7">5</tspan><tspan x="149.3" dy="18.7">3</tspan><tspan x="149.3" dy="18.7">3</tspan><tspan x="149.3" dy="18.7">6</tspan><tspan x="149.3" dy="18.7">11</tspan><tspan x="149.3" dy="18.7">1</tspan><tspan x="149.3" dy="18.7">9</tspan></text>
<text class="hap" y="884.3"><tspan x="168.3">6</tspan><tspan x="168.3" dy="18.7">1</tspan><tspan x="168.3" dy="18.7">5</tspan><tspan x="168.3" dy="18.7">4</tspan><tspan x="168.3" dy="18.7">4</tspan><tspan x="168.3" dy="18.7">1</tspan><tspan x="168.3" dy="18.7">4</tspan><tspan x="168.3" dy="18.7">1</tspan><tspan x="168.3" dy="18.7">3</tspan><tspan x="168.3" dy="18.7">8</tspan></text>
</g>
<g id="VI-3"><use href="#ov" x="369" y="824" class="o"/><text class="lbl" x="379" y="812">3</text><text class="pm" x="369" y="852">-</text></g>
<g id="VI-4"><use href="#sq" x="400.7" y="824" class="o"/><text class="lbl" x="416" y="812">4</text><text class="pm" x="400.7" y="852">+</text></g>
<g id="VI-5"><use href="#di" x="434" y="824" class="o"/><text class="lbl" x="450" y="812">5</text></g>
<g id="VI-6"><use href="#sq" x="551.4" y="824" class="o"/><text class="lbl" x="564" y="812">6</text><text class="pm" x="551.4" y="853">+</text></g>
<g id="VI-7"><use href="#di" x="957.8" y="824" class="o"/><text class="lbl" x="957.8" y="827.5" style="font-size:9px">2</text><text class="lbl" x="970" y="812">7</text><text class="pm" x="957.8" y="850">-</text></g>
<g id="VI-9"><use href="#ov" x="1002" y="824" class="o"/><rect x="1000.5" y="816" width="3" height="16"/><text class="lbl" x="1014.4" y="812">9</text></g>
<g id="VI-10"><use href="#ov" x="1063.7" y="824" class="o"/><text class="lbl" x="1079.6" y="812">10</text><text class="pm" x="1063.7" y="850">-</text></g>
<g id="VI-11"><use href="#ov" x="1103.9" y="824" class="o"/><text class="lbl" x="1119" y="812">11</text><text class="pm" x="1103.9" y="850">+</text></g>

<!-- Legend -->
<g id="legend">
<text class="leg" x="589" y="918" text-anchor="middle">Legend</text>
<line x1="562" y1="922.5" x2="616" y2="922.5" stroke="#000" stroke-width="1.3"/>
<rect x="293" y="935.5" width="15" height="15" fill="#000"/>
<text class="leg" x="316" y="948.5">Ataxia + EKV</text>
<rect x="466" y="935.5" width="15" height="15" class="o"/><rect x="466" y="935.5" width="7.5" height="15"/>
<text class="leg" x="489" y="948.5">EKV</text>
<rect x="589" y="935.5" width="15" height="15" class="o"/><rect x="596.5" y="935.5" width="7.5" height="15"/>
<text class="leg" x="630" y="948.5">Ataxia</text>
<rect x="718" y="935.5" width="15" height="15" class="o"/><rect x="724" y="935.5" width="3" height="15"/>
<text class="leg" x="745" y="948.5">Possibly affected</text>
</g>

<!-- Table (cut off at bottom) -->
<g id="table">
<rect x="513" y="1040.7" width="620" height="40" fill="none" stroke="#000" stroke-width="1.2"/>
<rect x="515.5" y="1043.2" width="615" height="40" fill="none" stroke="#000" stroke-width="1.2"/>
<line x1="598" y1="1043.2" x2="598" y2="1057" stroke="#000" stroke-width="1.2"/>
<line x1="711" y1="1043.2" x2="711" y2="1057" stroke="#000" stroke-width="1.2"/>
<text class="tb" x="652" y="1061">Position</text>
<text class="tb" x="922" y="1061">lod score Z<tspan dy="5" font-size="11px">max</tspan><tspan dy="-5"> =</tspan></text>
</g>
</svg>
